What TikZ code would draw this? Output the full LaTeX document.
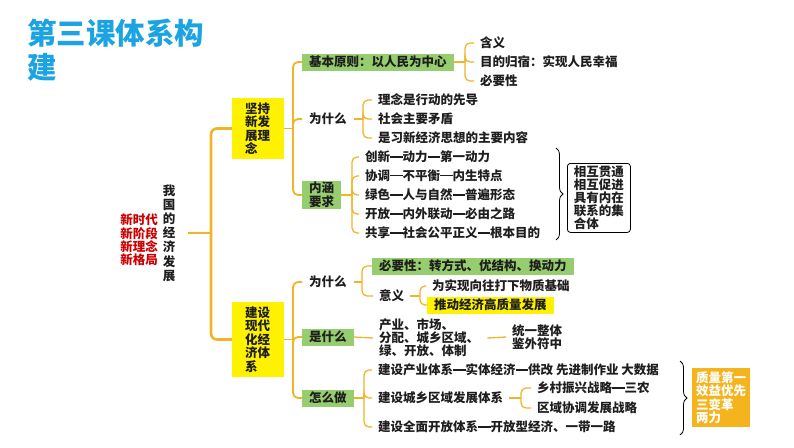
\documentclass[tikz,border=0pt]{standalone}
\usepackage{fontspec}
\setmainfont{Noto Sans CJK SC}
\usetikzlibrary{decorations.pathreplacing,calc}
\definecolor{tc}{RGB}{30,30,30}
\definecolor{titlec}{RGB}{28,163,226}
\definecolor{redc}{RGB}{204,0,0}
\definecolor{lc}{RGB}{240,180,40}
\definecolor{gfill}{RGB}{150,205,110}
\definecolor{orangec}{RGB}{245,180,30}
\newcommand\dd{\rule[0.34em]{1em}{0.085em}}
\newcommand\mybr[4]{%
  \draw[#1] (#2.east) -- (#2.east -| #3);
  \foreach \cc in {#4}{\draw[#1] (#2.east -| #3) |- (\cc.west);}%
}
\begin{document}
\begin{tikzpicture}[x=1pt,y=-1pt,
  every node/.style={font=\bfseries\fontsize{12.5}{13.5}\selectfont, text=tc},
  ttl/.style={anchor=west, inner sep=0pt, font=\bfseries\fontsize{29.5}{30}\selectfont, text=titlec},
  vt/.style={align=center, inner sep=0pt, font=\bfseries\fontsize{12.5}{14.2}\selectfont},
  rt/.style={align=left, inner sep=0pt, text=redc, font=\bfseries\fontsize{12.5}{13.4}\selectfont},
  yb/.style={fill=yellow, text width=26pt, align=left, inner sep=0pt},
  gb/.style={fill=gfill, anchor=west, inner xsep=7pt, inner ysep=0pt, minimum height=17pt},
  ybx/.style={fill=yellow, anchor=west, inner xsep=7pt, inner ysep=0pt, minimum height=17pt},
  pl/.style={anchor=west, inner xsep=7pt, inner ysep=0pt, minimum height=17pt},
  lf/.style={anchor=west, inner xsep=6pt, inner ysep=0pt},
  trunk/.style={draw=lc, line width=2.6pt, rounded corners=6pt},
  ltwo/.style={draw=lc, line width=1.8pt, rounded corners=5pt},
  lthree/.style={draw=lc, line width=1.3pt, rounded corners=5pt},
  brc/.style={decorate, decoration={brace, amplitude=7pt}, draw=black, line width=0.8pt}
]
\useasboundingbox (0,0) rectangle (794,447);

% title
\node[ttl] (t1) at (27,33) {第三课体系构};
\node[ttl] (t2) at (27,67) {建};

% root
\node[vt] (root) at (169,233) {我\\国\\的\\经\\济\\发\\展};
\node[rt] (red) at (139,240) {新时代\\新阶段\\新理念\\新格局};

% main boxes
\node[yb, minimum width=52pt, minimum height=61pt] (b1) at (258,128.5) {坚持\\新发\\展理\\念};
\node[yb, minimum width=52pt, minimum height=75pt] (b2) at (258,339.5) {建设\\现代\\化经\\济体\\系};

% upper branch
\node[gb] (jb) at (302,62) {基本原则：以人民为中心};
\node[pl] (w1) at (302,119) {为什么};
\node[gb, align=center, minimum height=28pt] (nh) at (302,195) {内涵\\要求};

\node[lf] (a1) at (474,43) {含义};
\node[lf] (a2) at (474,62) {目的归宿：实现人民幸福};
\node[lf] (a3) at (474,81) {必要性};

\node[lf] (c1) at (372,100) {理念是行动的先导};
\node[lf] (c2) at (372,119) {社会主要矛盾};
\node[lf] (c3) at (372,138) {是习新经济思想的主要内容};

\node[lf] (d1) at (359,157) {创新\dd 动力\dd 第一动力};
\node[lf] (d2) at (359,176) {协调\dd 不平衡\dd 内生特点};
\node[lf] (d3) at (359,195) {绿色\dd 人与自然\dd 普遍形态};
\node[lf] (d4) at (359,214) {开放\dd 内外联动\dd 必由之路};
\node[lf] (d5) at (359,233) {共享\dd 社会公平正义\dd 根本目的};

\draw[brc] (556,148) -- (556,240);
\node[draw=black, line width=0.8pt, rounded corners=3pt, anchor=north west, text width=50pt, minimum width=63pt, minimum height=69pt, align=left, inner sep=0pt, font=\bfseries\fontsize{12.5}{13.1}\selectfont] (hx) at (567,163) {相互贯通\\相互促进\\具有内在\\联系的集\\合体};

% lower branch
\node[pl] (w2) at (302,282) {为什么};
\node[gb] (sm) at (302,337) {是什么};
\node[gb] (zm) at (302,398) {怎么做};

\node[gb] (ne) at (372,266) {必要性：转方式、优结构、换动力};
\node[lf] (yy) at (373,296) {意义};
\node[lf] (wx) at (426,286) {为实现向往打下物质基础};
\node[ybx] (td) at (427,305) {推动经济高质量发展};

\node[lf, align=left, font=\bfseries\fontsize{12.5}{13}\selectfont] (cy) at (373,338) {产业、市场、\\分配、城乡区域、\\绿、开放、体制};
\node[lf, align=left, font=\bfseries\fontsize{12.5}{13}\selectfont] (ty) at (506,337) {统一整体\\鉴外符中};

\node[lf] (z1) at (372,370) {建设产业体系\dd 实体经济\dd 供改 先进制作业 大数据};
\node[lf] (z2) at (372,398) {建设城乡区域发展体系};
\node[lf] (z3) at (372,427) {建设全面开放体系\dd 开放型经济、一带一路};
\node[lf] (z21) at (531,388) {乡村振兴战略\dd 三农};
\node[lf] (z22) at (531,408) {区域协调发展战略};

\draw[brc] (680,361) -- (680,435);
\node[fill=orangec, text=white, anchor=north west, text width=50pt, minimum width=58pt, minimum height=59pt, align=left, inner sep=0pt, font=\bfseries\fontsize{12.5}{13.3}\selectfont] (ob) at (692,368) {质量第一\\效益优先\\三变革\\两力};

% bracket coordinates
\coordinate (T) at (211,0);
\coordinate (X1) at (293,0);
\coordinate (Xa) at (465,0);
\coordinate (Xc) at (363,0);
\coordinate (Xd) at (352,0);
\coordinate (Xw) at (362,0);
\coordinate (Xy) at (420,0);
\coordinate (Xz) at (364,0);
\coordinate (Xzz) at (521,0);

% connectors
\draw[trunk] ([xshift=13pt]root.east) -- (root.east -| T);
\draw[trunk] (root.east -| T) |- (b1.west);
\draw[trunk] (root.east -| T) |- (b2.west);
\mybr{ltwo}{b1}{X1}{jb,w1,nh}
\mybr{lthree}{jb}{Xa}{a1,a2,a3}
\mybr{lthree}{w1}{Xc}{c1,c2,c3}
\mybr{lthree}{nh}{Xd}{d1,d2,d3,d4,d5}
\mybr{ltwo}{b2}{X1}{w2,sm,zm}
\mybr{lthree}{w2}{Xw}{ne,yy}
\mybr{lthree}{yy}{Xy}{wx,td}
\draw[lthree] (sm.east) -- (cy.west);
\draw[lthree] ([xshift=2pt]cy.east) -- (ty.west);
\mybr{lthree}{zm}{Xz}{z1,z2,z3}
\mybr{lthree}{z2}{Xzz}{z21,z22}
\end{tikzpicture}
\end{document}
